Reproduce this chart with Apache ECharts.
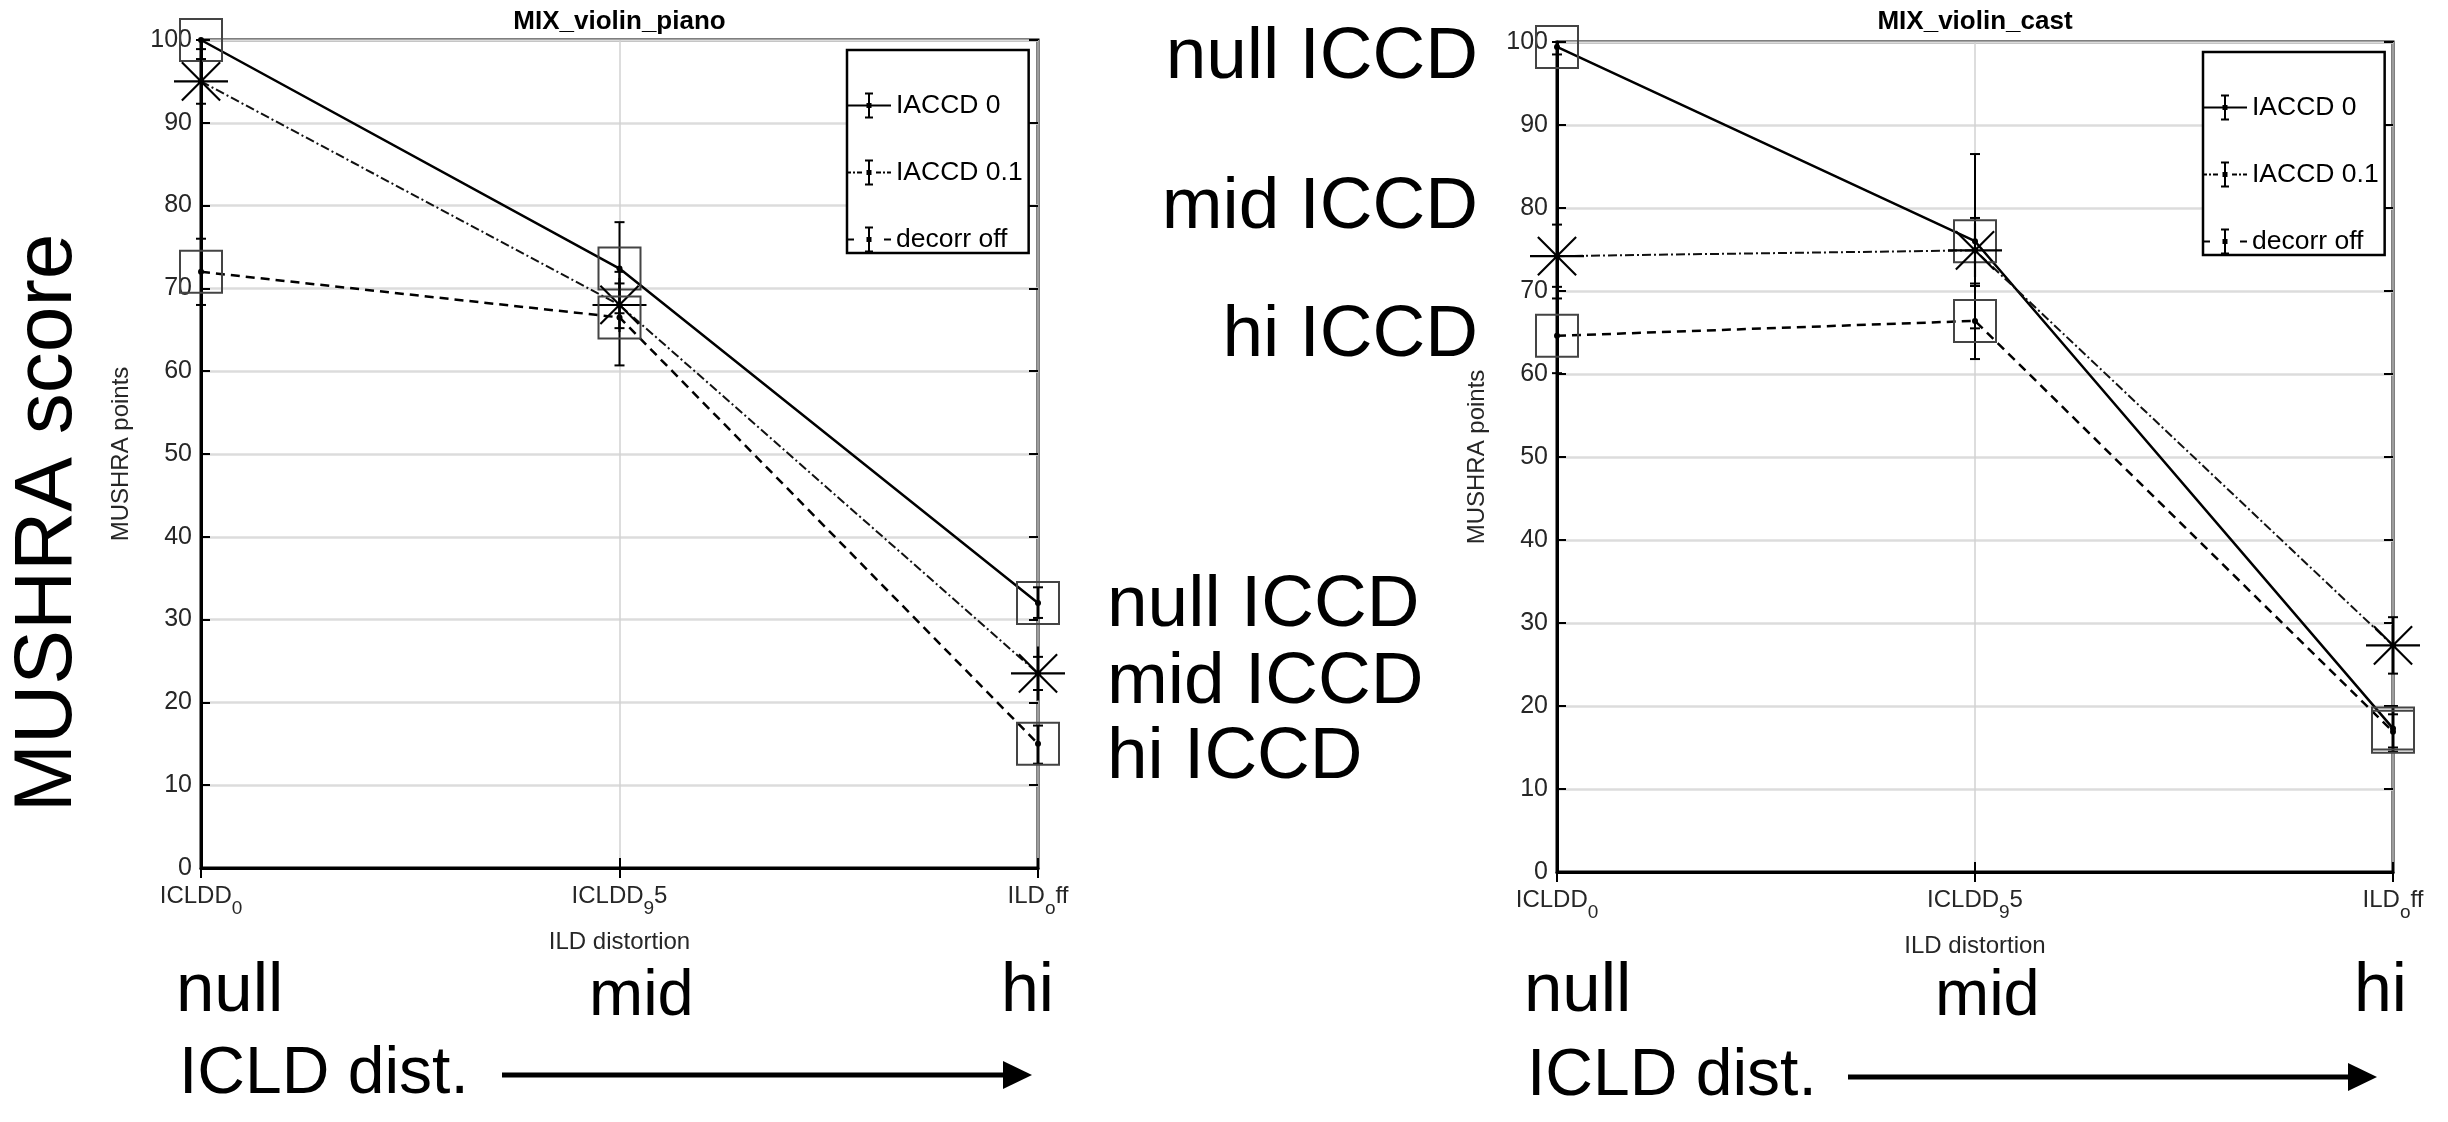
<!DOCTYPE html>
<html>
<head>
<meta charset="utf-8">
<script src="https://cdn.jsdelivr.net/npm/echarts@6/dist/echarts.min.js"></script>
<style>html,body{margin:0;padding:0;background:#fff}#c{width:2448px;height:1122px}</style>
</head>
<body>
<div id="c"></div>
<script>
// ---------------- data ----------------
const categories = ['ICLDD_0', 'ICLDD_95', 'ILD_off'];
const tickLabels = ['ICLDD{sub|0}', 'ICLDD{sub|9}5', 'ILD{sub|o}ff'];
const seriesNames = ['IACCD 0', 'IACCD 0.1', 'decorr off'];
const yTicks = [0, 10, 20, 30, 40, 50, 60, 70, 80, 90, 100];
const panelTitles = ['MIX_violin_piano', 'MIX_violin_cast'];

// MIX_violin_piano
const pianoIACCD0 = [100, 72.4, 32.0];
const pianoIACCD01 = [95, 68, 23.5];
const pianoDecorrOff = [72, 66.5, 15];
const pianoIACCD0Err = [[98.9, 100], [67, 78], [30.2, 33.9]];
const pianoIACCD01Err = [[92.3, 97.7], [65.2, 70.6], [21.5, 25.5]];
const pianoDecorrOffErr = [[68, 76], [60.7, 72], [12.6, 17.2]];

// MIX_violin_cast
const castIACCD0 = [99.4, 76.0, 17.3];
const castIACCD01 = [74.2, 74.9, 27.3];
const castDecorrOff = [64.6, 66.4, 16.9];
const castIACCD0Err = [[98.5, 100], [65.5, 86.5], [14.5, 20]];
const castIACCD01Err = [[70.5, 78], [70.6, 78.8], [23.9, 30.7]];
const castDecorrOffErr = [[60.1, 69.1], [61.8, 70.9], [15, 19]];

// ---------------- styles ----------------
const FONT = '"Liberation Sans", Arial, Helvetica, sans-serif';
const AXIS_TXT = '#262626';
const STAR = 'path://M0 48 L100 48 L100 52 L0 52 Z M48 0 L52 0 L52 100 L48 100 Z M13.2 16.0 L16.0 13.2 L86.8 84.0 L84.0 86.8 Z M84.0 13.2 L86.8 16.0 L16.0 86.8 L13.2 84.0 Z';
const BAR = 'M21 1 L23 1 L23 25 L21 25 Z M18 0 L26 0 L26 2 L18 2 Z M18 24 L26 24 L26 26 L18 26 Z M19.5 10.5 L24.5 10.5 L24.5 15.5 L19.5 15.5 Z';
const ICON_SOLID = 'path://M0 12 L44 12 L44 14 L0 14 Z ' + BAR;
const ICON_DASHDOT = 'path://M0 12 L4 12 L4 14 L0 14 Z M6 12 L8 12 L8 14 L6 14 Z M10 12 L15 12 L15 14 L10 14 Z M29 12 L34 12 L34 14 L29 14 Z M36 12 L38 12 L38 14 L36 14 Z M40 12 L44 12 L44 14 L40 14 Z ' + BAR;
const ICON_DASH = 'path://M0 12 L7 12 L7 14 L0 14 Z M37 12 L44 12 L44 14 L37 14 Z ' + BAR;

const lineStyles = [
  {color: '#000', width: 2.5, type: 'solid'},
  {color: '#111', width: 2, type: [9, 3, 2, 3]},
  {color: '#000', width: 2.5, type: [9, 6]}
];
const symbols = ['rect', STAR, 'rect'];
const symbolSizes = [42, 54, 42];
const markerStyles = [
  {color: 'rgba(0,0,0,0)', borderColor: '#444', borderWidth: 2},
  {color: '#000', borderWidth: 0},
  {color: 'rgba(0,0,0,0)', borderColor: '#444', borderWidth: 2}
];

const grids = [
  {left: 201, top: 40, width: 837, height: 828},
  {left: 1557, top: 42, width: 836, height: 830}
];

const panelData = [
  {means: [pianoIACCD0, pianoIACCD01, pianoDecorrOff], errs: [pianoIACCD0Err, pianoIACCD01Err, pianoDecorrOffErr]},
  {means: [castIACCD0, castIACCD01, castDecorrOff], errs: [castIACCD0Err, castIACCD01Err, castDecorrOffErr]}
];

function renderErr(params, api) {
  const i = api.value(0);
  const lo = api.coord([i, api.value(1)]);
  const hi = api.coord([i, api.value(2)]);
  const m = api.coord([i, api.value(3)]);
  const w = 5;
  const st = {stroke: '#000', lineWidth: 2};
  return {type: 'group', children: [
    {type: 'line', shape: {x1: lo[0], y1: lo[1], x2: hi[0], y2: hi[1]}, style: st},
    {type: 'line', shape: {x1: lo[0] - w, y1: lo[1], x2: lo[0] + w, y2: lo[1]}, style: st},
    {type: 'line', shape: {x1: hi[0] - w, y1: hi[1], x2: hi[0] + w, y2: hi[1]}, style: st},
    {type: 'circle', shape: {cx: m[0], cy: m[1], r: 3}, style: {fill: '#000'}}
  ]};
}

const option = {
  animation: false,
  backgroundColor: '#fff',
  title: [], grid: [], xAxis: [], yAxis: [], series: [], legend: [], graphic: []
};

grids.forEach((g, p) => {
  option.grid.push(Object.assign({show: true, borderColor: '#000', borderWidth: 3, backgroundColor: 'transparent'}, g));
  option.title.push({
    text: panelTitles[p], left: g.left + g.width / 2, top: 9, textAlign: 'center', padding: 0,
    textStyle: {fontSize: 26, fontWeight: 'bold', color: '#000', fontFamily: FONT}
  });
  option.xAxis.push({
    gridIndex: p, type: 'category', data: categories, boundaryGap: false, position: 'bottom',
    name: 'ILD distortion', nameLocation: 'middle', nameGap: 62,
    nameTextStyle: {fontSize: 24, color: AXIS_TXT, fontFamily: FONT},
    axisLine: {show: true, lineStyle: {color: '#000', width: 3}},
    axisTick: {show: true, inside: true, length: 10, lineStyle: {color: '#000', width: 2}},
    axisLabel: {
      show: true, margin: 7, fontSize: 24, color: AXIS_TXT, fontFamily: FONT,
      formatter: (v, i) => tickLabels[i],
      rich: {sub: {fontSize: 19, color: AXIS_TXT, fontFamily: FONT, padding: [24, 0, 0, 0]}}
    },
    splitLine: {show: true, lineStyle: {color: '#d2d2d2', width: 1.5}}
  });
  option.xAxis.push({
    gridIndex: p, type: 'category', data: categories, boundaryGap: false, position: 'top',
    axisLine: {show: false},
    axisTick: {show: true, inside: true, length: 10, lineStyle: {color: '#000', width: 2}},
    axisLabel: {show: false}, splitLine: {show: false}
  });
  option.yAxis.push({
    gridIndex: p, type: 'value', min: 0, max: 100, interval: 10, position: 'left',
    name: 'MUSHRA points', nameLocation: 'middle', nameGap: 68,
    nameTextStyle: {fontSize: 24, color: AXIS_TXT, fontFamily: FONT},
    axisLine: {show: true, lineStyle: {color: '#000', width: 3}},
    axisTick: {show: true, inside: true, length: 9, lineStyle: {color: '#000', width: 2}},
    axisLabel: {show: true, margin: 9, fontSize: 25, color: AXIS_TXT, fontFamily: FONT,
      formatter: v => yTicks.indexOf(v) >= 0 ? String(v) : ''},
    splitLine: {show: true, lineStyle: {color: '#dcdcdc', width: 2.5}}
  });
  option.yAxis.push({
    gridIndex: p, type: 'value', min: 0, max: 100, interval: 10, position: 'right',
    axisLine: {show: false},
    axisTick: {show: true, inside: true, length: 9, lineStyle: {color: '#000', width: 2}},
    axisLabel: {show: false}, splitLine: {show: false}
  });

  const d = panelData[p];
  seriesNames.forEach((name, s) => {
    option.series.push({
      type: 'custom', name: name + ' err', xAxisIndex: p * 2, yAxisIndex: p * 2, z: 3,
      renderItem: renderErr, encode: {x: 0, y: [1, 2, 3]}, silent: true,
      data: d.errs[s].map((e, i) => [i, e[0], e[1], d.means[s][i]])
    });
  });
  seriesNames.forEach((name, s) => {
    option.series.push({
      type: 'line', name: name, xAxisIndex: p * 2, yAxisIndex: p * 2, z: 4,
      data: d.means[s], symbol: symbols[s], symbolSize: symbolSizes[s],
      lineStyle: lineStyles[s], itemStyle: markerStyles[s], silent: true,
      emphasis: {disabled: true}
    });
  });
});

const legendData = [
  {name: 'IACCD 0', icon: ICON_SOLID, itemStyle: {color: '#000', borderWidth: 0}},
  {name: 'IACCD 0.1', icon: ICON_DASHDOT, itemStyle: {color: '#000', borderWidth: 0}},
  {name: 'decorr off', icon: ICON_DASH, itemStyle: {color: '#000', borderWidth: 0}}
];
[[847, 50], [2203, 52]].forEach(pos => {
  option.legend.push({
    data: legendData, orient: 'vertical', left: pos[0], top: pos[1],
    itemWidth: 44, itemHeight: 26, itemGap: 40, padding: [42, 6, 0, 0],
    borderColor: '#000', borderWidth: 2.5, backgroundColor: '#fff', selectedMode: false,
    textStyle: {fontSize: 26.5, color: '#000', fontFamily: FONT}, z: 10
  });
});

// ---------------- annotations ----------------
function txt(text, x, y, size, align, rot) {
  return {
    type: 'text', x: x, y: y, rotation: rot || 0, z: 20,
    style: {text: text, x: 0, y: 0, fontSize: size, fontFamily: FONT, fill: '#000',
      align: align, textAlign: align, verticalAlign: 'middle', textVerticalAlign: 'middle'}
  };
}
function arrow(x1, x2, y) {
  return [
    {type: 'line', z: 20, shape: {x1: x1, y1: y, x2: x2 - 26, y2: y}, style: {stroke: '#000', lineWidth: 5}},
    {type: 'polygon', z: 20, shape: {points: [[x2 - 29, y - 14], [x2, y], [x2 - 29, y + 14]]}, style: {fill: '#000'}}
  ];
}
option.graphic = [
  txt('MUSHRA score', 48, 523, 82, 'center', Math.PI / 2),
  txt('null ICCD', 1478, 58, 73, 'right'),
  txt('mid ICCD', 1478, 208, 73, 'right'),
  txt('hi ICCD', 1478, 336, 73, 'right'),
  txt('null ICCD', 1107, 606, 73, 'left'),
  txt('mid ICCD', 1107, 683, 73, 'left'),
  txt('hi ICCD', 1107, 758, 73, 'left'),
  txt('null', 176, 992, 69, 'left'),
  txt('mid', 589, 997, 65, 'left'),
  txt('hi', 1001, 992, 68, 'left'),
  txt('ICLD dist.', 179, 1075, 66, 'left'),
  txt('null', 1524, 992, 69, 'left'),
  txt('mid', 1935, 997, 65, 'left'),
  txt('hi', 2354, 992, 68, 'left'),
  txt('ICLD dist.', 1527, 1077, 66, 'left')
].concat(arrow(502, 1032, 1075), arrow(1848, 2377, 1077));

const chart = echarts.init(document.getElementById('c'), null, {renderer: 'canvas'});
chart.setOption(option);
</script>
</body>
</html>
